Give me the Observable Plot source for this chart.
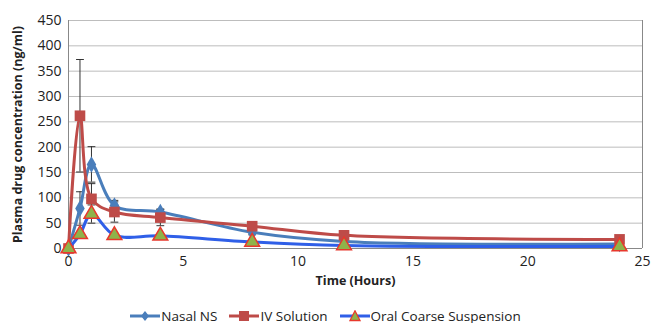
<!DOCTYPE html>
<html><head><meta charset="utf-8">
<script src="https://cdn.jsdelivr.net/npm/d3@7"></script>
<script src="https://cdn.jsdelivr.net/npm/@observablehq/plot@0.6"></script>
<style>
body{margin:0;background:#fff;font-family:"Open Sans",Arial,sans-serif;}
#chart svg{display:block}
#legend{display:flex;justify-content:center;gap:12px;font-size:13.5px;line-height:14px;height:14px;color:#222;margin-top:11px;padding-left:0px}
#legend span{display:flex;align-items:center;gap:1px}
</style></head><body>
<div id="chart"></div>
<div id="legend"></div>
<script>
const times = [0, 0.5, 1, 2, 4, 8, 12, 24];
const seriesNames = ["Nasal NS", "IV Solution", "Oral Coarse Suspension"];
const nasal = [0, 79, 166, 85, 72, 32, 14, 9];
const nasalSD = [0, 33, 35, 10, 6, 5, 2, 1];
const iv = [0, 262, 98, 72, 61, 44, 26, 18];
const ivSD = [0, 111, 30, 20, 16, 9, 3, 2];
const oral = [0, 28, 68, 26, 25, 13, 6, 4];
const oralSD = [0, 5, 18, 4, 4, 2, 1, 1];
const yTicks = [0, 50, 100, 150, 200, 250, 300, 350, 400, 450];
const xTicks = [0, 5, 10, 15, 20, 25];

const colors = {"Nasal NS": "#4a7ebb", "IV Solution": "#be4b48", "Oral Coarse Suspension": "#2f5fe8"};
const rows = [];
[[nasal, nasalSD], [iv, ivSD], [oral, oralSD]].forEach(([vals, sds], i) => {
  times.forEach((t, j) => rows.push({series: seriesNames[i], t, v: vals[j], sd: sds[j]}));
});
const errRows = rows.filter(d => d.sd > 0);
const S = s => rows.filter(d => d.series === s);

const chart = Plot.plot({
  width: 651, height: 298,
  marginLeft: 68, marginRight: 9, marginTop: 20, marginBottom: 50,
  style: {fontFamily: "'Open Sans', Arial, sans-serif", fontSize: "14px", color: "#222"},
  x: {domain: [0, 25], ticks: xTicks, tickSize: 0, tickPadding: 8, label: null},
  y: {domain: [0, 450], ticks: yTicks, tickSize: 0, tickPadding: 7, label: null},
  marks: [
    Plot.gridY(yTicks, {stroke: "#bdbdbd", strokeOpacity: 1, strokeWidth: 1}),
    Plot.ruleX([25], {stroke: "#888"}),
    Plot.ruleX([0], {stroke: "#888"}),
    Plot.ruleY([0], {stroke: "#888"}),
    Plot.axisX({ticks: xTicks, tickSize: 0, tickPadding: 8, fontSize: 14, label: null}),
    Plot.axisY({ticks: yTicks, tickSize: 0, tickPadding: 7, fontSize: 14, label: null}),
    Plot.ruleX(errRows, {x: "t", y1: d => d.v - d.sd, y2: d => d.v + d.sd, stroke: "#333", strokeWidth: 1}),
    Plot.link(errRows, {x1: d => d.t - 0.17, x2: d => d.t + 0.17, y1: d => d.v + d.sd, y2: d => d.v + d.sd, stroke: "#333", strokeWidth: 1}),
    Plot.link(errRows, {x1: d => d.t - 0.17, x2: d => d.t + 0.17, y1: d => d.v - d.sd, y2: d => d.v - d.sd, stroke: "#333", strokeWidth: 1}),
    Plot.line(S("Nasal NS"), {x: "t", y: "v", stroke: colors["Nasal NS"], strokeWidth: 3, curve: "catmull-rom"}),
    Plot.dot(S("Nasal NS"), {x: "t", y: "v", symbol: "diamond", r: 5, fill: colors["Nasal NS"]}),
    Plot.line(S("IV Solution"), {x: "t", y: "v", stroke: colors["IV Solution"], strokeWidth: 3, curve: "catmull-rom"}),
    Plot.dot(S("IV Solution"), {x: "t", y: "v", symbol: "square", r: 6, fill: colors["IV Solution"]}),
    Plot.line(S("Oral Coarse Suspension"), {x: "t", y: "v", stroke: colors["Oral Coarse Suspension"], strokeWidth: 3, curve: "catmull-rom"}),
    Plot.dot(S("Oral Coarse Suspension"), {x: "t", y: "v", symbol: "triangle", r: 5.5, fill: "#8fb34a", stroke: "#e8382c", strokeWidth: 1.5}),
    Plot.text(["Time (Hours)"], {frameAnchor: "bottom", dy: 36, fontWeight: "bold", fontSize: 12.5}),
    Plot.text(["Plasma drug concentration (ng/ml)"], {frameAnchor: "left", textAnchor: "middle", dx: -51, rotate: -90, fontWeight: "bold", fontSize: 12.5})
  ]
});
document.getElementById("chart").append(chart);

const symPaths = {
  "Nasal NS": `<path d="M15,1 L19,6 L15,11 L11,6Z" fill="${colors["Nasal NS"]}"/>`,
  "IV Solution": `<rect x="10" y="1" width="10" height="10" fill="${colors["IV Solution"]}"/>`,
  "Oral Coarse Suspension": `<path d="M15,0.8 L20,10.5 L10,10.5Z" fill="#8fb34a" stroke="#e8382c" stroke-width="1.3"/>`
};
const legend = document.getElementById("legend");
seriesNames.forEach(s => {
  const sp = document.createElement("span");
  sp.innerHTML = `<svg width="30" height="12"><line x1="0" x2="30" y1="6" y2="6" stroke="${colors[s]}" stroke-width="3"/>${symPaths[s]}</svg>${s}`;
  legend.append(sp);
});
</script>
</body></html>
